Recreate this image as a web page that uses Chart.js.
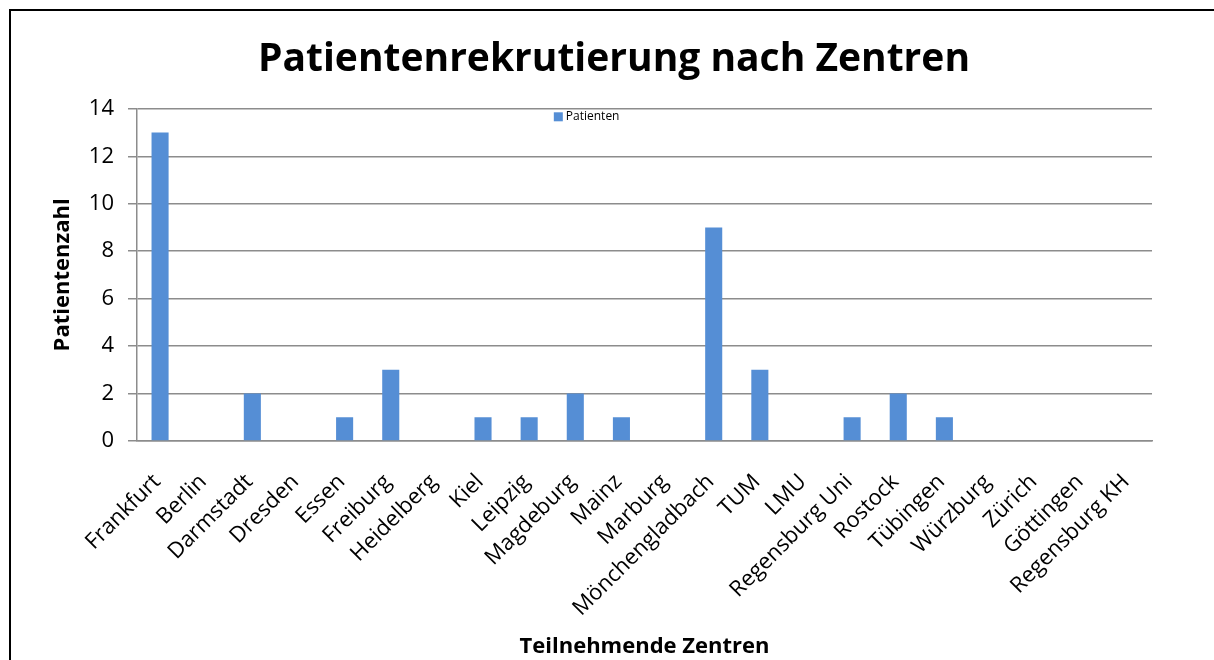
<!DOCTYPE html>
<html>
<head>
<meta charset="utf-8">
<script src="https://cdn.jsdelivr.net/npm/chart.js@4/dist/chart.umd.min.js"></script>
<style>
  html, body { margin: 0; padding: 0; background: #fff; }
  #frame { position: absolute; left: 9px; top: 9px; width: 1300px; height: 800px;
           border-left: 2px solid #000; border-top: 2px solid #000; box-sizing: border-box; }
  #wrap { position: absolute; left: 0; top: 0; width: 1214px; height: 660px; }
</style>
</head>
<body>
<div id="frame"></div>
<div id="wrap"><canvas id="c" width="1214" height="660"></canvas></div>
<script>
const categories = ["Frankfurt","Berlin","Darmstadt","Dresden","Essen","Freiburg","Heidelberg","Kiel","Leipzig","Magdeburg","Mainz","Marburg","Mönchengladbach","TUM","LMU","Regensburg Uni","Rostock","Tübingen","Würzburg","Zürich","Göttingen","Regensburg KH"];
const patienten = [13,0,2,0,1,3,0,1,1,2,1,0,9,3,0,1,2,1,0,0,0,0];
const seriesLabel = "Patienten";
const chartTitle = "Patientenrekrutierung nach Zentren";
const xTitle = "Teilnehmende Zentren";
const yTitle = "Patientenzahl";
const yMin = 0, yMax = 14, yStep = 2;

const FONT = "'Open Sans', sans-serif";
const gridColor = '#8c8c8c';
const barColor = '#558ED5';

// Legend drawn inside the plot area, near the top (like the Excel original)
const innerLegend = {
  id: 'innerLegend',
  afterLayout(chart) {
    // center the title on the whole canvas rather than the padded layout box
    const tb = chart.titleBlock;
    if (tb) { tb.left += 18; tb.right += 18; }
  },
  afterDraw(chart) {
    const ctx = chart.ctx;
    const area = chart.chartArea;
    const ds = chart.data.datasets[0];
    ctx.save();
    ctx.font = "12px " + FONT;
    const tw = ctx.measureText(ds.label).width;
    const box = 9, gap = 3;
    const total = box + gap + tw;
    const cx = area.left + area.width * 0.443;
    const x0 = cx - total / 2;
    const yMid = area.top + 8;
    ctx.fillStyle = ds.backgroundColor;
    ctx.fillRect(x0, yMid - box / 2, box, box);
    ctx.fillStyle = '#000';
    ctx.textBaseline = 'middle';
    ctx.textAlign = 'left';
    ctx.fillText(ds.label, x0 + box + gap, yMid);
    ctx.restore();
  }
};

new Chart(document.getElementById('c'), {
  type: 'bar',
  data: {
    labels: categories,
    datasets: [{
      label: seriesLabel,
      data: patienten,
      backgroundColor: barColor,
      borderWidth: 0,
      categoryPercentage: 1.0,
      barPercentage: 0.37
    }]
  },
  plugins: [innerLegend],
  options: {
    responsive: false,
    animation: false,
    layout: { padding: { left: 40, right: 62, top: 0, bottom: 0 } },
    plugins: {
      title: {
        display: true,
        text: chartTitle,
        color: '#000',
        font: { family: FONT, size: 39, weight: 'bold' },
        padding: { top: 36, bottom: 26 }
      },
      legend: { display: false },
      tooltip: { enabled: false }
    },
    scales: {
      x: {
        grid: { display: false, drawTicks: false },
        border: { display: true, color: gridColor, width: 1.5 },
        ticks: {
          color: '#000',
          font: { family: FONT, size: 22 },
          minRotation: 45, maxRotation: 45,
          autoSkip: false,
          padding: 28,
          labelOffset: -3
        },
        title: {
          display: true,
          text: xTitle,
          color: '#000',
          font: { family: FONT, size: 22, weight: 'bold' },
          padding: { top: 0, bottom: 0 }
        },
        afterFit(scale) { scale.height = 219; }
      },
      y: {
        min: yMin, max: yMax,
        ticks: {
          stepSize: yStep,
          color: '#000',
          font: { family: FONT, size: 22 },
          padding: 14
        },
        grid: { color: gridColor, lineWidth: 1.5, tickLength: 9, drawTicks: true, tickColor: gridColor },
        border: { display: true, color: gridColor, width: 1.5 },
        title: {
          display: true,
          text: yTitle,
          color: '#000',
          font: { family: FONT, size: 22, weight: 'bold' },
          padding: { top: 10, bottom: 0 }
        },
        afterFit(scale) { scale.width = 97; }
      }
    }
  }
});
</script>
</body>
</html>
